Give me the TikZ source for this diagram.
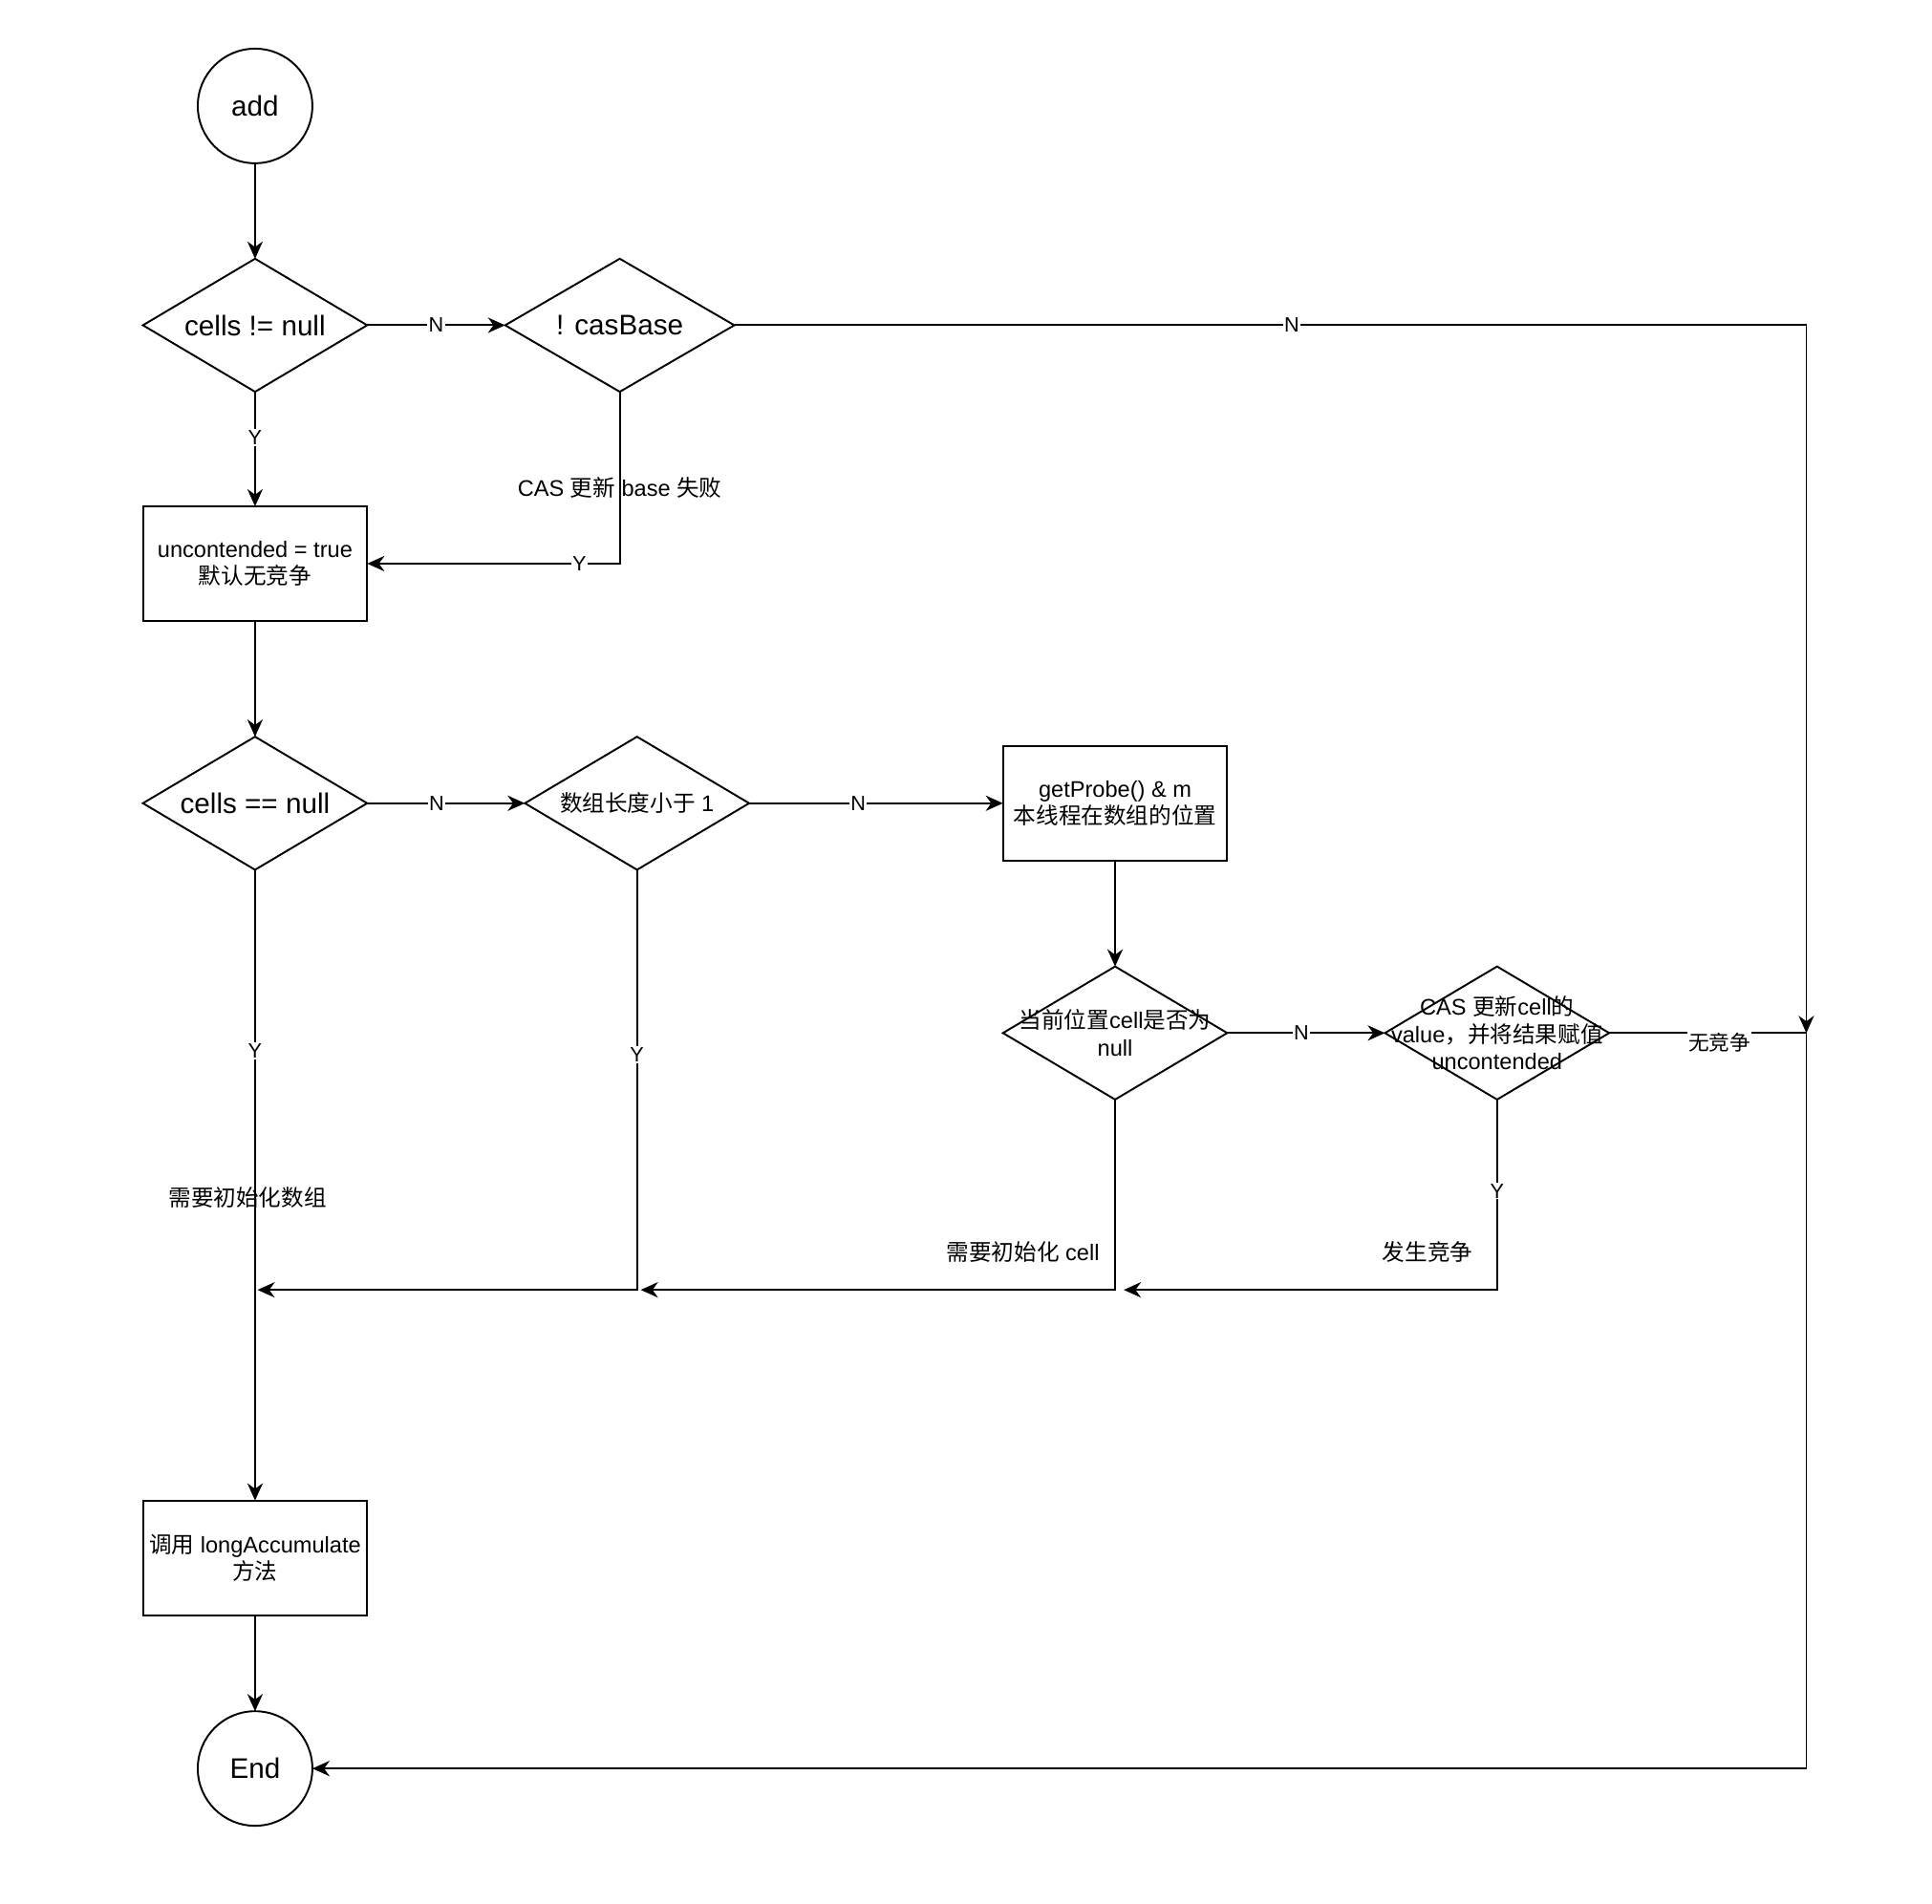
\documentclass[tikz,border=0pt]{standalone}
\usepackage{fontspec}
\setmainfont{Liberation Sans}
\newfontfamily\cjkfont{Noto Sans CJK SC}
\newcommand{\zh}[1]{{\cjkfont #1}}
\usetikzlibrary{arrows.meta,positioning,shapes.geometric}

\begin{document}
\begin{tikzpicture}[x=1pt,y=-1pt,line width=1.5pt,
      big/.style={font=\fontsize{23}{27}\selectfont},
      mid/.style={font=\fontsize{18.3}{22}\selectfont},
      term/.style={draw,circle,minimum size=93pt,inner sep=0pt,outer sep=0pt,big},
      dec/.style={draw,diamond,aspect=1.685,minimum width=182pt,minimum height=108pt,inner sep=0pt,outer sep=0pt},
      proc/.style={draw,rectangle,minimum width=182pt,minimum height=93pt,inner sep=0pt,outer sep=0pt,align=center,mid},
      txt/.style={align=center,inner sep=0pt,mid},
      note/.style={inner sep=0pt,mid},
      lab/.style={fill=white,inner sep=1pt,font=\fontsize{16.8}{20}\selectfont},
      arr/.style={-{Stealth[length=14pt,width=12.5pt,inset=4.5pt]}}]
    \useasboundingbox (0,0) rectangle (1568,1545);
    \node[term] (add) at (207,86) {add};
    \node[dec,big,below=77.5pt of add] (d1) {cells != null};
    \node[dec,big,minimum width=186pt,right=112pt of d1] (d2) {! casBase};
    \node[proc,below=93pt of d1] (box1) {uncontended = true\\ \zh{默认无竞争}};
    \node[dec,big,below=94pt of box1] (d3) {cells == null};
    \node[dec,mid,right=128pt of d3] (d4) {\zh{数组长度小于} 1};
    \node[proc,right=206pt of d4] (box2) {getProbe() \& m\\ \zh{本线程在数组的位置}};
    \node[dec,below=86pt of box2] (d5) {};
    \node[txt] (d5t) at (d5) {\zh{当前位置}cell\zh{是否为}\\ null};
    \node[dec,right=128pt of d5] (d6) {};
    \node[txt] (d6t) at (d6) {CAS \zh{更新}cell\zh{的}\\ value\zh{，并将结果赋值}\\ uncontended};
    \node[proc,below=512pt of d3] (box3) {\zh{调用} longAccumulate\\ \zh{方法}};
    \node[term,below=78pt of box3] (end) {End};
    \coordinate[right=160pt of d6] (m);
    \coordinate (j1) at (209,1047);
    \coordinate (j2) at (520,1047);
    \coordinate (j3) at (912,1047);
    \draw[arr] (add) -- (d1);
    \draw[arr] (d1) -- node[lab]{N} (d2);
    \draw[arr] (d2) -| node[lab,pos=0.26]{N} (m);
    \draw[arr] (d1) -- node[lab,pos=0.4]{Y} (box1);
    \draw[arr] (d2) |- node[note,pos=0.28]{CAS \zh{更新} base \zh{失败}} node[lab,pos=0.58]{Y} (box1);
    \draw[arr] (box1) -- (d3);
    \draw[arr] (d3) -- node[lab,pos=0.44]{N} (d4);
    \draw[arr] (d4) -- node[lab,pos=0.43]{N} (box2);
    \draw[arr] (box2) -- (d5);
    \draw[arr] (d5) -- node[lab,pos=0.47]{N} (d6);
    \draw[arr] (d6) -- node[lab,pos=0.56,yshift=-8pt]{\zh{无竞争}} (m) |- (end);
    \draw[arr] (d3) -- node[lab,pos=0.287]{Y} node[note,pos=0.52,xshift=-6pt]{\zh{需要初始化数组}} (box3);
    \draw[arr] (d4) |- node[lab,pos=0.22]{Y} (j1);
    \draw[arr] (d5) |- node[note,pos=0.4,left=12pt]{\zh{需要初始化} cell} (j2);
    \draw[arr] (d6) |- node[lab,pos=0.24]{Y} node[note,pos=0.4,left=19pt]{\zh{发生竞争}} (j3);
    \draw[arr] (box3) -- (end);
  \end{tikzpicture}
\end{document}
